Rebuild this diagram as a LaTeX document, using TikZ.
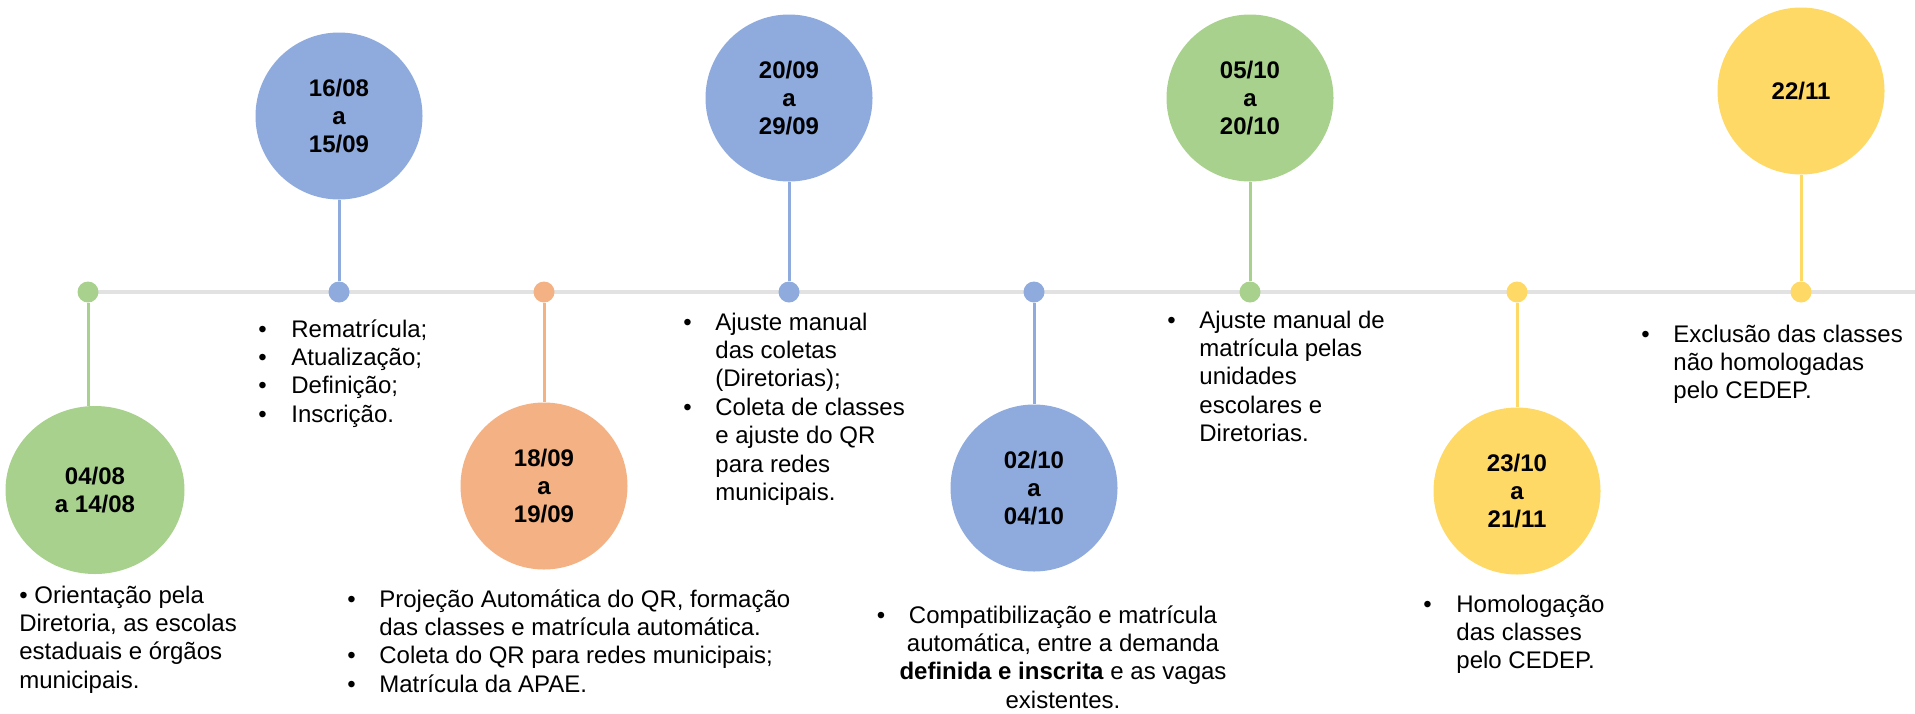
\documentclass[tikz,border=0pt]{standalone}
\usepackage{fontspec}
\setmainfont{Liberation Sans}
\usepackage{tikz}
\usetikzlibrary{shapes.geometric}
\definecolor{verde}{HTML}{A9D18E}
\definecolor{azul}{HTML}{8FAADC}
\definecolor{laranja}{HTML}{F4B183}
\definecolor{amarelo}{HTML}{FFD966}
\definecolor{cinza}{HTML}{E2E2E2}
\tikzset{
  bola/.style={circle, minimum size=83.5pt, inner sep=0pt, align=center, font=\fontsize{12}{14}\selectfont\bfseries},
  ponto/.style={circle, minimum size=10.5pt, inner sep=0pt},
  haste/.style={line width=1.5pt},
  texto/.style={inner sep=0pt, anchor=base west, font=\fontsize{12}{14.2}\selectfont}
}

\begin{document}
\begin{tikzpicture}[x=0.5pt, y=-0.5pt]
      \useasboundingbox (0,0) rectangle (1915,713);
      \coordinate (ini) at (88,292);
      \coordinate (fim) at (1915,292);
      \draw[cinza, line width=1.75pt] (ini) -- (fim);
      \node[ponto, fill=verde] (p1) at (88,292) {};
      \node[ponto, fill=azul] (p2) at (339,292) {};
      \node[ponto, fill=laranja] (p3) at (544,292) {};
      \node[ponto, fill=azul] (p4) at (789,292) {};
      \node[ponto, fill=azul] (p5) at (1034,292) {};
      \node[ponto, fill=verde] (p6) at (1250,292) {};
      \node[ponto, fill=amarelo] (p7) at (1517,292) {};
      \node[ponto, fill=amarelo] (p8) at (1801,292) {};
      \node[bola, ellipse, fill=verde, minimum width=89.5pt, minimum height=84pt] (c1) at (95,490) {04/08\\a 14/08};
      \node[bola, fill=azul] (c2) at (339,116) {16/08\\a\\15/09};
      \node[bola, fill=laranja] (c3) at (544,486) {18/09\\a\\19/09};
      \node[bola, fill=azul] (c4) at (789,98) {20/09\\a\\29/09};
      \node[bola, fill=azul] (c5) at (1034,488) {02/10\\a\\04/10};
      \node[bola, fill=verde] (c6) at (1250,98) {05/10\\a\\20/10};
      \node[bola, fill=amarelo] (c7) at (1517,491) {23/10\\a\\21/11};
      \node[bola, fill=amarelo] (c8) at (1801,91) {22/11};
      \draw[haste, verde] (p1) -- (p1 |- c1.north);
      \draw[haste, azul] (p2) -- (c2);
      \draw[haste, laranja] (p3) -- (c3);
      \draw[haste, azul] (p4) -- (c4);
      \draw[haste, azul] (p5) -- (c5);
      \draw[haste, verde] (p6) -- (c6);
      \draw[haste, amarelo] (p7) -- (c7);
      \draw[haste, amarelo] (p8) -- (c8);
      \node[texto] (t1) at (19,603) {\begin{tabular}[t]{@{}l@{}}• Orientação pela\\Diretoria, as escolas\\estaduais e órgãos\\municipais.\end{tabular}};
      \node[texto] (t2) at (258,337) {\begin{tabular}[t]{@{}p{16.5pt}@{}l@{}}•&Rematrícula;\\•&Atualização;\\•&Definição;\\•&Inscrição.\end{tabular}};
      \node[texto] (t3) at (347,607) {\begin{tabular}[t]{@{}p{16pt}@{}l@{}}•&Projeção Automática do QR, formação\\&das classes e matrícula automática.\\•&Coleta do QR para redes municipais;\\•&Matrícula da APAE.\end{tabular}};
      \node[texto] (t4) at (683,330) {\begin{tabular}[t]{@{}p{16pt}@{}l@{}}•&Ajuste manual\\&das coletas\\&(Diretorias);\\•&Coleta de classes\\&e ajuste do QR\\&para redes\\&municipais.\end{tabular}};
      \node[texto, anchor=base] (t5) at (1063,623) {\begin{tabular}[t]{@{}c@{}}\llap{\makebox[16pt][l]{•}}Compatibilização e matrícula\\automática, entre a demanda\\\textbf{definida e inscrita} e as vagas\\existentes.\end{tabular}};
      \node[texto] (t6) at (1167,328) {\begin{tabular}[t]{@{}p{16pt}@{}l@{}}•&Ajuste manual de\\&matrícula pelas\\&unidades\\&escolares e\\&Diretorias.\end{tabular}};
      \node[texto] (t7) at (1423,612) {\begin{tabular}[t]{@{}p{16.5pt}@{}l@{}}•&Homologação\\&das classes\\&pelo CEDEP.\end{tabular}};
      \node[texto] (t8) at (1641,342) {\begin{tabular}[t]{@{}p{16pt}@{}l@{}}•&Exclusão das classes\\&não homologadas\\&pelo CEDEP.\end{tabular}};
    \end{tikzpicture}
\end{document}
